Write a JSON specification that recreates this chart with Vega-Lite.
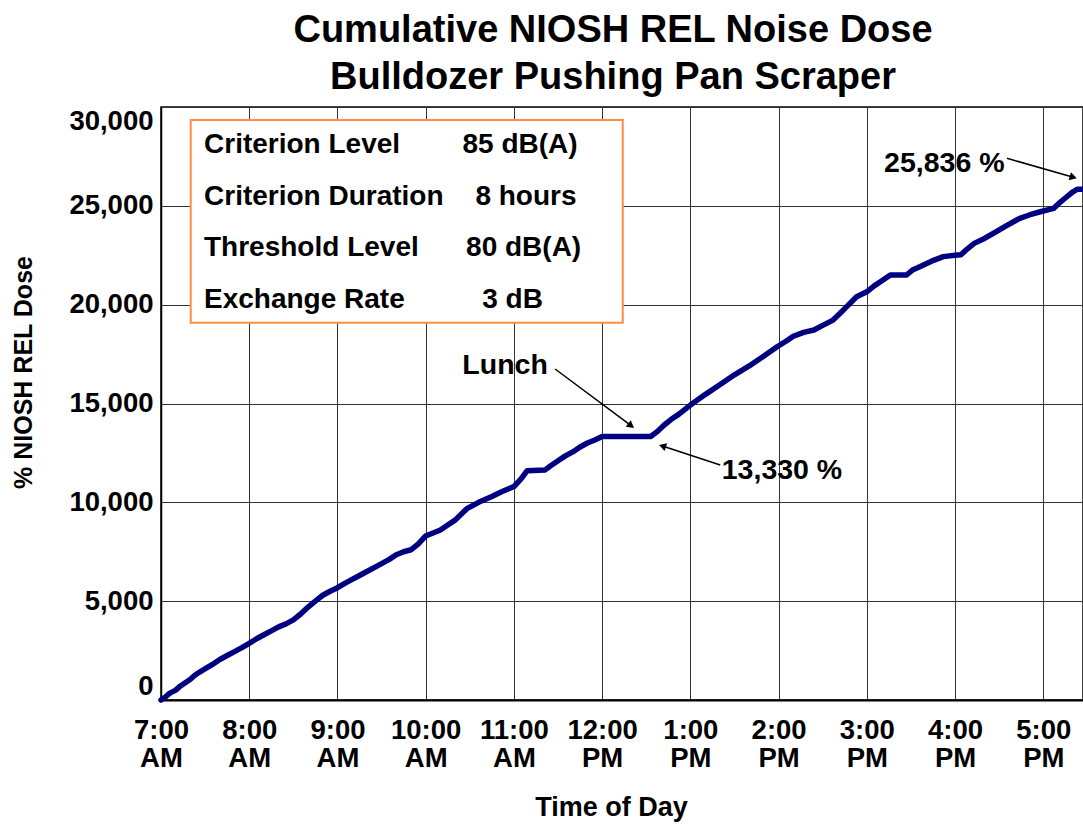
{
  "$schema": "https://vega.github.io/schema/vega-lite/v6.json",
  "width": 922,
  "height": 593,
  "autosize": {"type": "none"},
  "padding": {"left": 161, "top": 107, "right": 0, "bottom": 125},
  "background": "white",
  "config": {
    "font": "Liberation Sans",
    "view": {"stroke": "#000", "strokeWidth": 1.5}
  },
  "title": {
    "text": ["Cumulative NIOSH REL Noise Dose", "Bulldozer Pushing Pan Scraper"],
    "font": "Liberation Sans",
    "fontSize": 38,
    "fontWeight": "bold",
    "color": "#000",
    "lineHeight": 47,
    "anchor": "middle",
    "dx": -9,
    "offset": 10
  },
  "datasets": {
    "dose": [
      {"time": "2000-01-01T07:00:00", "dose": 0},
      {"time": "2000-01-01T07:03:00", "dose": 150},
      {"time": "2000-01-01T07:06:00", "dose": 350},
      {"time": "2000-01-01T07:10:00", "dose": 500},
      {"time": "2000-01-01T07:13:00", "dose": 700},
      {"time": "2000-01-01T07:16:00", "dose": 850},
      {"time": "2000-01-01T07:20:00", "dose": 1050},
      {"time": "2000-01-01T07:23:00", "dose": 1250},
      {"time": "2000-01-01T07:26:00", "dose": 1400},
      {"time": "2000-01-01T07:31:00", "dose": 1620},
      {"time": "2000-01-01T07:35:00", "dose": 1800},
      {"time": "2000-01-01T07:40:00", "dose": 2050},
      {"time": "2000-01-01T07:45:00", "dose": 2250},
      {"time": "2000-01-01T07:50:00", "dose": 2450},
      {"time": "2000-01-01T07:55:00", "dose": 2650},
      {"time": "2000-01-01T08:00:00", "dose": 2870},
      {"time": "2000-01-01T08:05:00", "dose": 3100},
      {"time": "2000-01-01T08:10:00", "dose": 3300},
      {"time": "2000-01-01T08:15:00", "dose": 3500},
      {"time": "2000-01-01T08:20:00", "dose": 3700},
      {"time": "2000-01-01T08:25:00", "dose": 3850},
      {"time": "2000-01-01T08:30:00", "dose": 4050},
      {"time": "2000-01-01T08:35:00", "dose": 4350},
      {"time": "2000-01-01T08:40:00", "dose": 4700},
      {"time": "2000-01-01T08:46:00", "dose": 5060},
      {"time": "2000-01-01T08:50:00", "dose": 5300},
      {"time": "2000-01-01T08:55:00", "dose": 5500},
      {"time": "2000-01-01T09:00:00", "dose": 5680},
      {"time": "2000-01-01T09:05:00", "dose": 5900},
      {"time": "2000-01-01T09:10:00", "dose": 6100},
      {"time": "2000-01-01T09:15:00", "dose": 6300},
      {"time": "2000-01-01T09:20:00", "dose": 6500},
      {"time": "2000-01-01T09:25:00", "dose": 6700},
      {"time": "2000-01-01T09:30:00", "dose": 6900},
      {"time": "2000-01-01T09:35:00", "dose": 7100},
      {"time": "2000-01-01T09:40:00", "dose": 7350},
      {"time": "2000-01-01T09:45:00", "dose": 7500},
      {"time": "2000-01-01T09:50:00", "dose": 7600},
      {"time": "2000-01-01T09:55:00", "dose": 7900},
      {"time": "2000-01-01T10:00:00", "dose": 8300},
      {"time": "2000-01-01T10:05:00", "dose": 8450},
      {"time": "2000-01-01T10:10:00", "dose": 8600},
      {"time": "2000-01-01T10:15:00", "dose": 8850},
      {"time": "2000-01-01T10:20:00", "dose": 9100},
      {"time": "2000-01-01T10:28:00", "dose": 9680},
      {"time": "2000-01-01T10:36:00", "dose": 10000},
      {"time": "2000-01-01T10:45:00", "dose": 10300},
      {"time": "2000-01-01T10:52:00", "dose": 10550},
      {"time": "2000-01-01T11:00:00", "dose": 10800},
      {"time": "2000-01-01T11:05:00", "dose": 11200},
      {"time": "2000-01-01T11:09:00", "dose": 11600},
      {"time": "2000-01-01T11:21:00", "dose": 11630},
      {"time": "2000-01-01T11:25:00", "dose": 11850},
      {"time": "2000-01-01T11:30:00", "dose": 12100},
      {"time": "2000-01-01T11:35:00", "dose": 12350},
      {"time": "2000-01-01T11:40:00", "dose": 12550},
      {"time": "2000-01-01T11:45:00", "dose": 12800},
      {"time": "2000-01-01T11:50:00", "dose": 13000},
      {"time": "2000-01-01T11:55:00", "dose": 13150},
      {"time": "2000-01-01T12:00:00", "dose": 13330},
      {"time": "2000-01-01T12:33:00", "dose": 13330},
      {"time": "2000-01-01T12:37:00", "dose": 13550},
      {"time": "2000-01-01T12:42:00", "dose": 13900},
      {"time": "2000-01-01T12:47:00", "dose": 14200},
      {"time": "2000-01-01T12:52:00", "dose": 14450},
      {"time": "2000-01-01T13:00:00", "dose": 14920},
      {"time": "2000-01-01T13:10:00", "dose": 15450},
      {"time": "2000-01-01T13:20:00", "dose": 15950},
      {"time": "2000-01-01T13:30:00", "dose": 16450},
      {"time": "2000-01-01T13:40:00", "dose": 16900},
      {"time": "2000-01-01T13:50:00", "dose": 17400},
      {"time": "2000-01-01T13:59:00", "dose": 17870},
      {"time": "2000-01-01T14:05:00", "dose": 18150},
      {"time": "2000-01-01T14:10:00", "dose": 18400},
      {"time": "2000-01-01T14:17:00", "dose": 18600},
      {"time": "2000-01-01T14:24:00", "dose": 18720},
      {"time": "2000-01-01T14:30:00", "dose": 18950},
      {"time": "2000-01-01T14:37:00", "dose": 19220},
      {"time": "2000-01-01T14:42:00", "dose": 19580},
      {"time": "2000-01-01T14:47:00", "dose": 19950},
      {"time": "2000-01-01T14:53:00", "dose": 20400},
      {"time": "2000-01-01T15:00:00", "dose": 20650},
      {"time": "2000-01-01T15:05:00", "dose": 20950},
      {"time": "2000-01-01T15:10:00", "dose": 21200},
      {"time": "2000-01-01T15:16:00", "dose": 21500},
      {"time": "2000-01-01T15:27:00", "dose": 21500},
      {"time": "2000-01-01T15:31:00", "dose": 21750},
      {"time": "2000-01-01T15:36:00", "dose": 21920},
      {"time": "2000-01-01T15:44:00", "dose": 22200},
      {"time": "2000-01-01T15:52:00", "dose": 22430},
      {"time": "2000-01-01T16:00:00", "dose": 22500},
      {"time": "2000-01-01T16:04:00", "dose": 22520},
      {"time": "2000-01-01T16:08:00", "dose": 22800},
      {"time": "2000-01-01T16:13:00", "dose": 23100},
      {"time": "2000-01-01T16:20:00", "dose": 23350},
      {"time": "2000-01-01T16:26:00", "dose": 23610},
      {"time": "2000-01-01T16:35:00", "dose": 24000},
      {"time": "2000-01-01T16:44:00", "dose": 24370},
      {"time": "2000-01-01T16:51:00", "dose": 24550},
      {"time": "2000-01-01T16:58:00", "dose": 24700},
      {"time": "2000-01-01T17:07:00", "dose": 24870},
      {"time": "2000-01-01T17:11:00", "dose": 25150},
      {"time": "2000-01-01T17:16:00", "dose": 25460},
      {"time": "2000-01-01T17:20:00", "dose": 25700},
      {"time": "2000-01-01T17:23:00", "dose": 25836},
      {"time": "2000-01-01T17:27:00", "dose": 25836}
    ],
    "box": [
      {"time": "2000-01-01T07:20:12", "time2": "2000-01-01T12:14:00", "dose": 19087, "dose2": 29342}
    ],
    "infoLeft": [
      {"time": "2000-01-01T07:29:15", "dose": 28077, "label": "Criterion Level"},
      {"time": "2000-01-01T07:29:15", "dose": 25461, "label": "Criterion Duration"},
      {"time": "2000-01-01T07:29:15", "dose": 22851, "label": "Threshold Level"},
      {"time": "2000-01-01T07:29:15", "dose": 20236, "label": "Exchange Rate"}
    ],
    "infoRight": [
      {"time": "2000-01-01T11:04:12", "dose": 28077, "label": "85 dB(A)"},
      {"time": "2000-01-01T11:08:12", "dose": 25461, "label": "8 hours"},
      {"time": "2000-01-01T11:06:36", "dose": 22851, "label": "80 dB(A)"},
      {"time": "2000-01-01T10:59:06", "dose": 20236, "label": "3 dB"}
    ],
    "notes": [
      {"time": "2000-01-01T15:52:42", "dose": 27192, "label": "25,836 %"},
      {"time": "2000-01-01T10:54:00", "dose": 16948, "label": "Lunch"},
      {"time": "2000-01-01T14:02:18", "dose": 11636, "label": "13,330 %"}
    ],
    "arrows": [
      {"time": "2000-01-01T16:35:18", "dose": 27405, "time2": "2000-01-01T17:20:24", "dose2": 26443},
      {"time": "2000-01-01T11:28:00", "dose": 16745, "time2": "2000-01-01T12:19:42", "dose2": 13877},
      {"time": "2000-01-01T13:20:18", "dose": 11889, "time2": "2000-01-01T12:41:00", "dose2": 12850}
    ],
    "head1": [{"time": "2000-01-01T17:20:24", "dose": 26443}],
    "head2": [{"time": "2000-01-01T12:19:42", "dose": 13877}],
    "head3": [{"time": "2000-01-01T12:41:00", "dose": 12850}]
  },
  "encoding": {
    "x": {
      "field": "time",
      "type": "temporal",
      "title": "Time of Day",
      "scale": {
        "domain": [
          {"year": 2000, "month": 1, "date": 1, "hours": 7},
          {"year": 2000, "month": 1, "date": 1, "hours": 17, "minutes": 27}
        ]
      },
      "axis": {
        "values": [
          {"year": 2000, "month": 1, "date": 1, "hours": 7},
          {"year": 2000, "month": 1, "date": 1, "hours": 8},
          {"year": 2000, "month": 1, "date": 1, "hours": 9},
          {"year": 2000, "month": 1, "date": 1, "hours": 10},
          {"year": 2000, "month": 1, "date": 1, "hours": 11},
          {"year": 2000, "month": 1, "date": 1, "hours": 12},
          {"year": 2000, "month": 1, "date": 1, "hours": 13},
          {"year": 2000, "month": 1, "date": 1, "hours": 14},
          {"year": 2000, "month": 1, "date": 1, "hours": 15},
          {"year": 2000, "month": 1, "date": 1, "hours": 16},
          {"year": 2000, "month": 1, "date": 1, "hours": 17}
        ],
        "labelExpr": "[timeFormat(datum.value, '%-I:%M'), timeFormat(datum.value, '%p')]",
        "labelFont": "Liberation Sans",
        "labelFontSize": 27.5,
        "labelFontWeight": "bold",
        "labelColor": "#000",
        "labelLineHeight": 28,
        "labelPadding": 16,
        "labelFlush": false,
        "labelOverlap": false,
        "ticks": false,
        "domainColor": "#000",
        "domainWidth": 2,
        "grid": true,
        "gridColor": "#333",
        "gridWidth": 1,
        "titleFont": "Liberation Sans",
        "titleFontSize": 27,
        "titleFontWeight": "bold",
        "titleColor": "#000",
        "titleX": 450,
        "titleY": 107,
        "titleAlign": "center",
        "titleBaseline": "middle"
      }
    },
    "y": {
      "field": "dose",
      "type": "quantitative",
      "title": "% NIOSH REL Dose",
      "scale": {"domain": [0, 30000], "nice": false},
      "axis": {
        "values": [0, 5000, 10000, 15000, 20000, 25000, 30000],
        "format": ",.0f",
        "labelFont": "Liberation Sans",
        "labelFontSize": 27.5,
        "labelFontWeight": "bold",
        "labelColor": "#000",
        "labelPadding": 8,
        "labelFlush": true,
        "ticks": false,
        "domainColor": "#000",
        "domainWidth": 1.5,
        "grid": true,
        "gridColor": "#333",
        "gridWidth": 1,
        "titleFont": "Liberation Sans",
        "titleFontSize": 25,
        "titleFontWeight": "bold",
        "titleColor": "#000",
        "titleX": -138,
        "titleY": 265,
        "titleAlign": "center",
        "titleBaseline": "middle"
      }
    }
  },
  "layer": [
    {
      "data": {"name": "box"},
      "mark": {"type": "rect", "fill": "white", "stroke": "#FF8C42", "strokeWidth": 2},
      "encoding": {
        "x2": {"field": "time2"},
        "y2": {"field": "dose2"}
      }
    },
    {
      "data": {"name": "infoLeft"},
      "mark": {"type": "text", "align": "left", "baseline": "middle", "fontSize": 28, "fontWeight": "bold", "font": "Liberation Sans", "color": "#000"},
      "encoding": {"text": {"field": "label"}}
    },
    {
      "data": {"name": "infoRight"},
      "mark": {"type": "text", "align": "center", "baseline": "middle", "fontSize": 28, "fontWeight": "bold", "font": "Liberation Sans", "color": "#000"},
      "encoding": {"text": {"field": "label"}}
    },
    {
      "data": {"name": "dose"},
      "mark": {"type": "line", "color": "#000080", "strokeWidth": 5.5, "strokeJoin": "round", "strokeCap": "round"}
    },
    {
      "data": {"name": "notes"},
      "mark": {"type": "text", "align": "center", "baseline": "middle", "fontSize": 28.5, "fontWeight": "bold", "font": "Liberation Sans", "color": "#000"},
      "encoding": {"text": {"field": "label"}}
    },
    {
      "data": {"name": "arrows"},
      "mark": {"type": "rule", "color": "#000", "strokeWidth": 1.5},
      "encoding": {
        "x2": {"field": "time2"},
        "y2": {"field": "dose2"}
      }
    },
    {
      "data": {"name": "head1"},
      "mark": {"type": "point", "shape": "triangle-right", "filled": true, "color": "#000", "opacity": 1, "size": 70, "angle": 16}
    },
    {
      "data": {"name": "head2"},
      "mark": {"type": "point", "shape": "triangle-right", "filled": true, "color": "#000", "opacity": 1, "size": 70, "angle": 37}
    },
    {
      "data": {"name": "head3"},
      "mark": {"type": "point", "shape": "triangle-right", "filled": true, "color": "#000", "opacity": 1, "size": 70, "angle": 198}
    }
  ]
}
